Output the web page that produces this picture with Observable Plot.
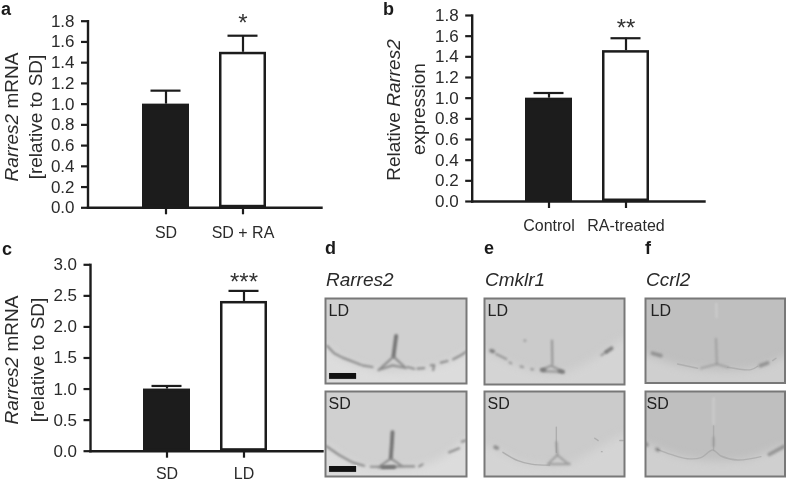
<!DOCTYPE html>
<html><head><meta charset="utf-8">
<script src="https://cdn.jsdelivr.net/npm/d3@7"></script>
<script src="https://cdn.jsdelivr.net/npm/@observablehq/plot@0.6"></script>
<style>
html,body{margin:0;background:#fff;}
#page{position:relative;width:787px;height:481px;overflow:hidden;font-family:"Liberation Sans",Arial,sans-serif;color:#2a2a2a;filter:blur(.35px);}
#page svg{position:absolute;display:block;background:transparent;overflow:visible;}
.t{position:absolute;white-space:nowrap;line-height:1;}
.r{transform:translate(-50%,-50%) rotate(-90deg);font-size:19px;}
.l{font-weight:bold;font-size:18px;color:#1a1a1a;transform:translateY(-50%);}
.g{font-style:italic;font-size:19px;transform:translateY(-50%);}
</style></head><body><div id="page"></div>
<script>
// --- bar panels ---
const catsA = ["SD", "SD + RA"];
const meanA = [1.0, 1.5];
const upperA = [1.13, 1.66];
const starsA = ["", "*"];
const ticksA = [0, 0.2, 0.4, 0.6, 0.8, 1.0, 1.2, 1.4, 1.6, 1.8];

const catsB = ["Control", "RA-treated"];
const meanB = [1.0, 1.46];
const upperB = [1.05, 1.58];
const starsB = ["", "**"];
const ticksB = [0, 0.2, 0.4, 0.6, 0.8, 1.0, 1.2, 1.4, 1.6, 1.8];

const catsC = ["SD", "LD"];
const meanC = [1.0, 2.41];
const upperC = [1.05, 2.58];
const starsC = ["", "***"];
const ticksC = [0, 0.5, 1.0, 1.5, 2.0, 2.5, 3.0];

// --- micrograph traces in each crop's own units ---
const dLDfloor = [[9,150],[50,185],[100,205],[170,224],[250,224],[330,214],[400,190],[432,170]];
const dLDmid = [[[14,150],[35,172],[60,185],[100,200],[115,206]],[[120,208],[150,213]],[[168,222],[210,208],[250,216],[213,182],[168,222]],[[255,213],[275,218]],[[285,218],[305,216]],[[325,208],[335,207],[332,222]],[[355,200],[375,195]],[[392,190],[415,178],[430,168]]];
const dLDdark = [[[221,120],[217,150],[213,180]]];
const dLDfaint = [];
const dSDfloor = [[9,168],[60,205],[120,232],[200,238],[290,232],[360,208],[432,155]];
const dSDmid = [[[12,172],[50,198],[90,220],[125,230]],[[145,233],[170,233]],[[168,235],[205,208],[240,232],[170,235]],[[240,232],[275,232]],[[290,232],[300,226]],[[380,190],[410,178]],[[418,158],[430,155]]];
const dSDdark = [[[210,130],[208,165],[205,205]],[[180,234],[215,234]]];
const dSDfaint = [];
const eLDfloor = [[10,165],[60,190],[120,215],[180,232],[250,232],[340,190],[429,130]];
const eLDmid = [[[45,175],[75,190]],[[85,200],[90,203]],[[118,212],[125,214]],[[150,220],[155,221]],[[180,222],[210,210],[245,228],[185,226],[180,222]],[[212,135],[213,205]],[[130,135],[132,135]],[[360,178],[375,168]]];
const eLDdark = [[[30,165],[36,167]],[[375,168],[390,158]],[[182,222],[190,222]],[[235,226],[245,228]]];
const eLDfaint = [];
const eSDfloor = [[10,170],[70,195],[120,220],[170,228],[260,226],[340,185],[429,140]];
const eSDmid = [[[225,160],[228,195]],[[200,225],[228,198],[255,220],[265,225],[200,225]]];
const eSDdark = [[[42,175],[48,177]]];
const eSDfaint = [[[65,190],[110,215],[150,225],[205,228]],[[340,148],[350,155]],[[415,155],[425,155]],[[225,115],[225,190]],[[360,188],[362,188]]];
const fLDfloor = [[24,180],[120,210],[200,222],[300,225],[380,212],[442,185]];
const fLDmid = [[[235,130],[238,205]],[[190,218],[238,205],[270,215]]];
const fLDdark = [[[45,173],[70,180]],[[368,210],[390,202]]];
const fLDfaint = [[[120,205],[180,218]],[[270,215],[340,222],[360,212]],[[405,195],[415,188]]];
const fLDstripe = [[236,25],[237,65]];
const fSDfloor = [[24,445],[120,480],[220,495],[330,490],[442,450]];
const fSDmid = [[[228,425],[228,450]]];
const fSDdark = [[[395,475],[438,452]],[[25,443],[28,447]],[[58,460],[62,462]]];
const fSDfaint = [[[60,460],[100,475],[150,488],[190,485],[225,462],[250,480],[300,492],[370,482]],[[228,390],[228,462]]];
const fSDstripe = [[228,308],[228,385]];
const barCrop = [[20,231],[104,251]];

const page = document.getElementById("page");
const FONT = "Liberation Sans";
const INK = "#1c1c1c";

function barPanel({cats, mean, upper, stars, ticks, yMax, box, c1, step, starDy, xPad}) {
  const rows = cats.map((c, i) => ({cat: c, mean: mean[i], upper: upper[i], star: stars[i]}));
  const W = box.right - box.axisX;
  const pi = 0.39;
  const po = (W / step - 2 + pi) / 2;
  const start = c1 - step * (1 - pi) / 2;
  const align = (start - box.axisX) / (W - step * (2 - pi));
  const svg = Plot.plot({
    width: box.right, height: box.bottom + 33,
    marginLeft: box.axisX, marginRight: 0, marginTop: box.top, marginBottom: 33,
    style: {background: "transparent", fontFamily: FONT},
    x: {type: "band", domain: cats, paddingInner: pi, paddingOuter: po, align, label: null},
    y: {domain: [0, yMax], label: null},
    color: {domain: cats, range: [INK, "#ffffff"]},
    marks: [
      Plot.ruleX(rows, {x: "cat", y1: "mean", y2: "upper", stroke: INK, strokeWidth: 2.2}),
      Plot.tickY(rows, {x: "cat", y: "upper", stroke: INK, strokeWidth: 2.2, insetLeft: 8.5, insetRight: 8.5}),
      Plot.barY(rows, {x: "cat", y: "mean", fill: "cat", stroke: INK, strokeWidth: 2.5, inset: 1.25}),
      Plot.text(rows, {x: "cat", y: "upper", text: "star", fontSize: 24, fill: "#333", dy: starDy, lineAnchor: "middle"}),
      Plot.frame({anchor: "left", stroke: INK, strokeWidth: 2.4}),
      Plot.frame({anchor: "bottom", stroke: INK, strokeWidth: 2.4}),
      Plot.axisY({ticks, tickFormat: d3.format(".1f"), tickSize: 6.5, tickPadding: 7, fontSize: 17, strokeWidth: 2.2, stroke: INK, fill: "#2a2a2a", label: null}),
      Plot.axisX({tickSize: 7, tickPadding: xPad, fontSize: 16, strokeWidth: 2.2, stroke: INK, fill: "#2a2a2a", label: null})
    ]
  });
  svg.style.left = "0px";
  svg.style.top = box.topOffset + "px";
  page.appendChild(svg);
}

const flat = segs => segs.flatMap((s, z) => s.map(([x, y]) => ({z, x, y})));

function micro({box, dx, dy, bg, floorFill, floor, mid, dark, faint, label, labelDx, stripe, scaleBar, strength = 1}) {
  const ext = [[floor[0][0] - 40, floor[0][1]], ...floor, [floor[floor.length - 1][0] + 40, floor[floor.length - 1][1]]];
  const floorRows = ext.map(([x, y]) => ({x, y}));
  const floorMark = Plot.areaY(floorRows, {x: "x", y1: "y", y2: dy[1] + 40, fill: floorFill, curve: "catmull-rom", clip: true});
  const blur = (mark, amount) => { const r = mark.render; mark.render = function (...args) { const g = r.apply(this, args); if (g) g.style.filter = `blur(${amount}px)`; return g; }; return mark; };
  const marks = [
    blur(floorMark, 4),
    blur(Plot.line(flat(faint), {x: "x", y: "y", z: "z", stroke: "#a0a0a0", strokeOpacity: strength, strokeWidth: 1.4, curve: "catmull-rom", clip: true}), .7),
    blur(Plot.line(flat(mid), {x: "x", y: "y", z: "z", stroke: "#8f8f8f", strokeOpacity: strength, strokeWidth: 2.2, curve: "linear", clip: true}), .8),
    blur(Plot.line(flat(dark), {x: "x", y: "y", z: "z", stroke: "#757575", strokeOpacity: strength, strokeWidth: 3.8, strokeLinecap: "round", clip: true}), .9)
  ];
  if (stripe) marks.push(blur(Plot.line(flat([stripe]), {x: "x", y: "y", stroke: "#cdcdcd", strokeWidth: 2}), 1));
  if (scaleBar) marks.push(Plot.rect([scaleBar], {x1: d => d[0][0], y1: d => d[0][1], x2: d => d[1][0], y2: d => d[1][1], fill: "#111", stroke: "#eee", strokeWidth: 0.8}));
  const svg = Plot.plot({
    width: box.w, height: box.h, margin: 0,
    style: {background: bg, fontFamily: FONT},
    x: {domain: dx, axis: null},
    y: {domain: dy, range: [0, box.h], axis: null},
    marks: [
      ...marks,
      Plot.frame({stroke: "#787878", strokeWidth: 2}),
      Plot.text([label], {frameAnchor: "top-left", dx: labelDx, dy: 6, fontSize: 16, fill: "#222", lineAnchor: "top"})
    ]
  });
  svg.style.left = box.x + "px"; svg.style.top = box.y + "px";
  svg.style.background = bg;
  page.appendChild(svg);
  return svg;
}

barPanel({cats: catsA, mean: meanA, upper: upperA, stars: starsA, ticks: ticksA, yMax: 1.8, xPad: 11.5,
  box: {axisX: 87.5, right: 321, top: 20.7, bottom: 207.3, topOffset: 0}, c1: 165, step: 77.6, starDy: -12});
barPanel({cats: catsB, mean: meanB, upper: upperB, stars: starsB, ticks: ticksB, yMax: 1.8, xPad: 11,
  box: {axisX: 471.7, right: 704, top: 15, bottom: 201, topOffset: 0}, c1: 548, step: 77.7, starDy: -10});
barPanel({cats: catsC, mean: meanC, upper: upperC, stars: starsC, ticks: ticksC, yMax: 3, xPad: 9.5,
  box: {axisX: 90, right: 322, top: 24.3, bottom: 210.7, topOffset: 240}, c1: 166.5, step: 77.5, starDy: -9});

const H1 = 85, W1 = 141;
micro({box:{x:325,y:298,w:W1,h:H1}, dx:[9,432], dy:[9,262], bg:"#d0d0d0", floorFill:"#dcdcdc", floor:dLDfloor, mid:dLDmid, dark:dLDdark, faint:dLDfaint, label:"LD", labelDx:3, scaleBar:barCrop});
micro({box:{x:325,y:391,w:W1,h:H1}, dx:[9,432], dy:[9,262], bg:"#d0d0d0", floorFill:"#dcdcdc", floor:dSDfloor, mid:dSDmid, dark:dSDdark, faint:dSDfaint, label:"SD", labelDx:3, scaleBar:barCrop});
micro({box:{x:484,y:298,w:140,h:86}, dx:[10,429], dy:[9,266], bg:"#cbcbcb", floorFill:"#d4d4d4", floor:eLDfloor, mid:eLDmid, dark:eLDdark, faint:eLDfaint, label:"LD", labelDx:3, strength:.85});
micro({box:{x:484,y:391,w:140,h:85}, dx:[10,429], dy:[9,262], bg:"#cbcbcb", floorFill:"#d4d4d4", floor:eSDfloor, mid:eSDmid, dark:eSDdark, faint:eSDfaint, label:"SD", labelDx:3, strength:.7});
micro({box:{x:645,y:298,w:139.5,h:84.5}, dx:[24,442], dy:[9,262], bg:"#bfbfbf", floorFill:"#cfcfcf", floor:fLDfloor, mid:fLDmid, dark:fLDdark, faint:fLDfaint, label:"LD", labelDx:5, stripe:fLDstripe, strength:.6});
micro({box:{x:645,y:391,w:139.5,h:85}, dx:[24,442], dy:[288,541], bg:"#bfbfbf", floorFill:"#cfcfcf", floor:fSDfloor, mid:fSDmid, dark:fSDdark, faint:fSDfaint, label:"SD", labelDx:1, stripe:fSDstripe, strength:.6});

// --- text that mixes italic and roman, or sits outside a plot ---
function addText(cls, x, y, html) {
  const d = document.createElement("div");
  d.className = "t " + cls;
  d.style.left = x + "px"; d.style.top = y + "px";
  d.innerHTML = html;
  page.appendChild(d);
}
addText("r", 11, 117, "<i>Rarres2</i> mRNA");
addText("r", 35, 117, "[relative to SD]");
addText("r", 393, 110, "Relative <i>Rarres2</i>");
addText("r", 418, 109, "expression");
addText("r", 11, 360, "<i>Rarres2</i> mRNA");
addText("r", 36.5, 360, "[relative to SD]");
addText("l", 1, 9, "a");
addText("l", 383, 9, "b");
addText("l", 2, 249, "c");
addText("l", 325, 248, "d");
addText("l", 484, 248, "e");
addText("l", 645, 248, "f");
addText("g", 326, 279, "Rarres2");
addText("g", 485, 279, "Cmklr1");
addText("g", 646, 279, "Ccrl2");
</script></body></html>
